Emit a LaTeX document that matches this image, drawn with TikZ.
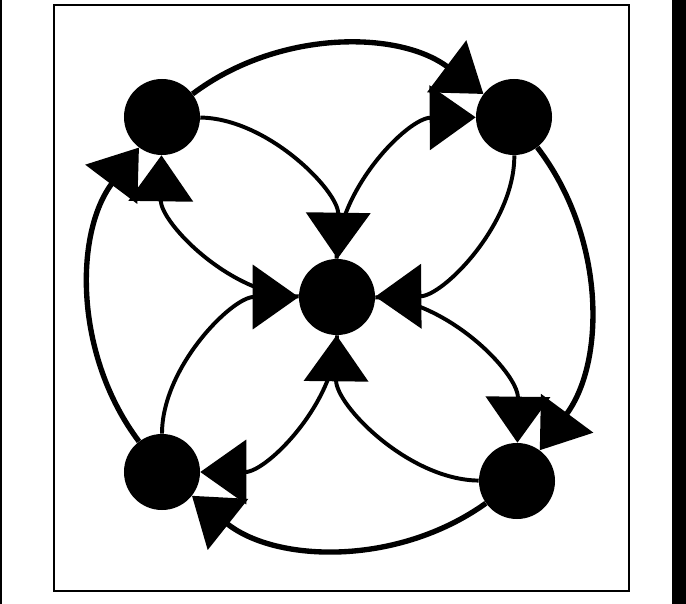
\documentclass[tikz,border=0pt]{standalone}
\usepackage{tikz}
\usetikzlibrary{arrows.meta}
\tikzset{
  hub/.style={circle, fill=black, minimum size=1.9cm, inner sep=0pt},
  ringarrow/.style={-{Triangle[length=1.15cm, width=1.6cm]}, line width=3.8pt},
  petalarrow/.style={-{Triangle[length=1.15cm, width=1.6cm]}, line width=2.8pt},
  frame/.style={draw=black, line width=1.4pt},
}
\begin{document}
\begin{tikzpicture}[x=0.025cm, y=-0.025cm]
\useasboundingbox (0,0) rectangle (686,604);

% ---------------- page edges and frame ----------------
\fill[black] (0,0) rectangle (2,604);
\fill[black] (672,0) rectangle (686,604);
\draw[frame] (54,5) rectangle (629,591);

% ---------------- hubs ----------------
\node[hub] (C)  at (337,297) {};
\node[hub] (TL) at (162,117) {};
\node[hub] (TR) at (514,117) {};
\node[hub] (BR) at (517,481) {};
\node[hub] (BL) at (162,472) {};

% ---------------- outer ring, clockwise ----------------
\foreach \a/\b in {TL/TR, TR/BR, BR/BL, BL/TL}
  \draw[ringarrow] (\a) to[bend left=37, looseness=0.94] (\b);

% ---------------- petals: out along one side, back along the other ----------------
\foreach \n in {TL, TR, BR, BL} {
  \draw[petalarrow] (\n) to[bend left=45, looseness=0.88] (C);
  \draw[petalarrow] (C) to[bend left=45, looseness=0.88] (\n);
}
\end{tikzpicture}
\end{document}
